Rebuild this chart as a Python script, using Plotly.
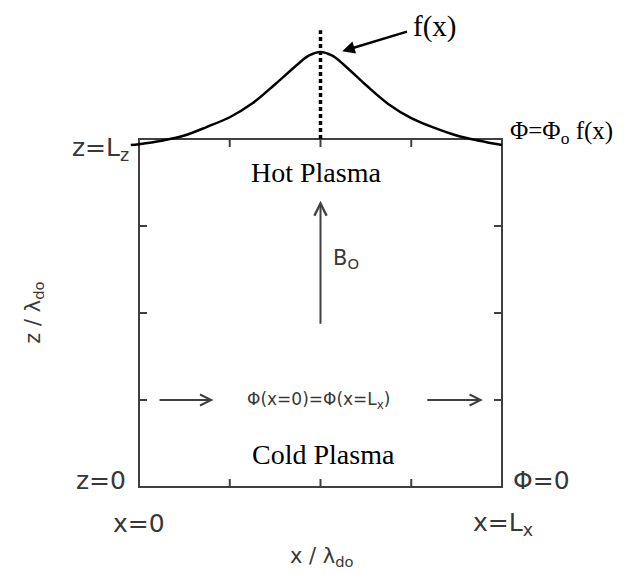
import plotly.graph_objects as go

# ---- data (x in units of lambda_do, box spans 0..4 in x and z) ----
curve_x = [-0.09, 0.0, 0.25, 0.5, 0.75, 1.0, 1.25, 1.5, 1.75, 1.875, 2.0,
           2.125, 2.25, 2.5, 2.75, 3.0, 3.25, 3.5, 3.75, 4.0]
curve_z = [3.93, 3.94, 3.98, 4.04, 4.14, 4.25, 4.41, 4.63, 4.86, 4.96, 5.00,
           4.96, 4.86, 4.62, 4.40, 4.24, 4.13, 4.04, 3.98, 3.93]
box_x = [0, 4]
box_z = [0, 4]
tick_vals = [1, 2, 3]
peak_x = 2.0
dotted_z = [4.0, 5.25]
b0_arrow_z = [1.86, 3.29]
flow_z = 1.0
left_flow_x = [0.21, 0.82]
right_flow_x = [3.16, 3.79]

SERIF = "Liberation Serif"
SANS = "DejaVu Sans"
BOXC = "#404040"
TXTC = "#383838"

fig = go.Figure()

# bell-shaped profile f(x)
fig.add_trace(go.Scatter(x=curve_x, y=curve_z, mode="lines",
                         line=dict(color="black", width=2.5, shape="spline", smoothing=1.0),
                         hoverinfo="skip", showlegend=False))
# dotted vertical line at the peak
fig.add_trace(go.Scatter(x=[peak_x, peak_x], y=dotted_z, mode="lines",
                         line=dict(color="black", width=3.5, dash="4px,3px"),
                         hoverinfo="skip", showlegend=False))

shapes = []
# box
shapes.append(dict(type="rect", x0=box_x[0], x1=box_x[1], y0=box_z[0], y1=box_z[1],
                   line=dict(color=BOXC, width=2), layer="below"))
tlx = 8 / 90.75
tlz = 8 / 87.0
for t in tick_vals:
    shapes.append(dict(type="line", x0=box_x[0], x1=box_x[0] + tlx, y0=t, y1=t,
                       line=dict(color=BOXC, width=2)))
    shapes.append(dict(type="line", x0=box_x[1], x1=box_x[1] - tlx, y0=t, y1=t,
                       line=dict(color=BOXC, width=2)))
    shapes.append(dict(type="line", x0=t, x1=t, y0=box_z[0], y1=box_z[0] + tlz,
                       line=dict(color=BOXC, width=2)))
    shapes.append(dict(type="line", x0=t, x1=t, y0=box_z[1], y1=box_z[1] - tlz,
                       line=dict(color=BOXC, width=2)))

ann = []
# B0 arrow
ann.append(dict(x=peak_x, y=b0_arrow_z[1], ax=peak_x, ay=b0_arrow_z[0],
                xref="x", yref="y", axref="x", ayref="y", text="",
                showarrow=True, arrowhead=5, arrowsize=1.2, arrowwidth=2, arrowcolor=BOXC))
# horizontal periodic arrows
for xs in (left_flow_x, right_flow_x):
    ann.append(dict(x=xs[1], y=flow_z, ax=xs[0], ay=flow_z,
                    xref="x", yref="y", axref="x", ayref="y", text="",
                    showarrow=True, arrowhead=5, arrowsize=1.2, arrowwidth=1.8, arrowcolor=BOXC))
# f(x) arrow
ann.append(dict(x=2.24, y=5.01, ax=2.97, ay=5.24,
                xref="x", yref="y", axref="x", ayref="y", text="",
                showarrow=True, arrowhead=2, arrowsize=1.0, arrowwidth=2.5, arrowcolor="black"))

def txt(x, y, s, size, font=SANS, color=TXTC, xanchor="center", angle=0):
    ann.append(dict(x=x, y=y, xref="x", yref="y", text=s, showarrow=False,
                    xanchor=xanchor, yanchor="middle", textangle=angle,
                    font=dict(family=font, size=size, color=color)))

txt(3.26, 5.29, "f(x)", 29, SERIF, "black")
txt(1.95, 3.62, "Hot Plasma", 28, SERIF, "black")
txt(2.03, 0.37, "Cold Plasma", 28, SERIF, "black")
txt(4.07, 4.08, "Φ=Φ<sub>o</sub> f(x)", 25, SERIF, "black", xanchor="left")
txt(4.10, 0.08, "Φ=0", 25, SANS, TXTC, xanchor="left")
txt(-0.085, 3.885, "z=L<sub>z</sub>", 25, SANS, TXTC, xanchor="right")
txt(-0.12, 0.08, "z=0", 25, SANS, TXTC, xanchor="right")
txt(0.0, -0.425, "x=0", 25, SANS, TXTC)
txt(4.01, -0.425, "x=L<sub>x</sub>", 25, SANS, TXTC)
txt(2.02, -0.80, "x / λ<sub>do</sub>", 21, SANS, TXTC)
txt(-1.16, 2.0, "z / λ<sub>do</sub>", 21, SANS, TXTC, angle=-90)
txt(1.98, 0.99, "Φ(x=0)=Φ(x=L<sub>x</sub>)", 17, SANS, TXTC)
txt(2.115, 2.62, "B<sub>O</sub>", 21, SANS, TXTC, xanchor="left")

fig.update_layout(
    width=624, height=574,
    margin=dict(l=0, r=0, t=0, b=0),
    paper_bgcolor="white", plot_bgcolor="white",
    xaxis=dict(range=[-131 / 90.75, (624 - 131) / 90.75], visible=False, fixedrange=True),
    yaxis=dict(range=[(479 - 574) / 87.0, 479 / 87.0], visible=False, fixedrange=True),
    shapes=shapes, annotations=ann, showlegend=False,
)

fig.write_html("out.html")
